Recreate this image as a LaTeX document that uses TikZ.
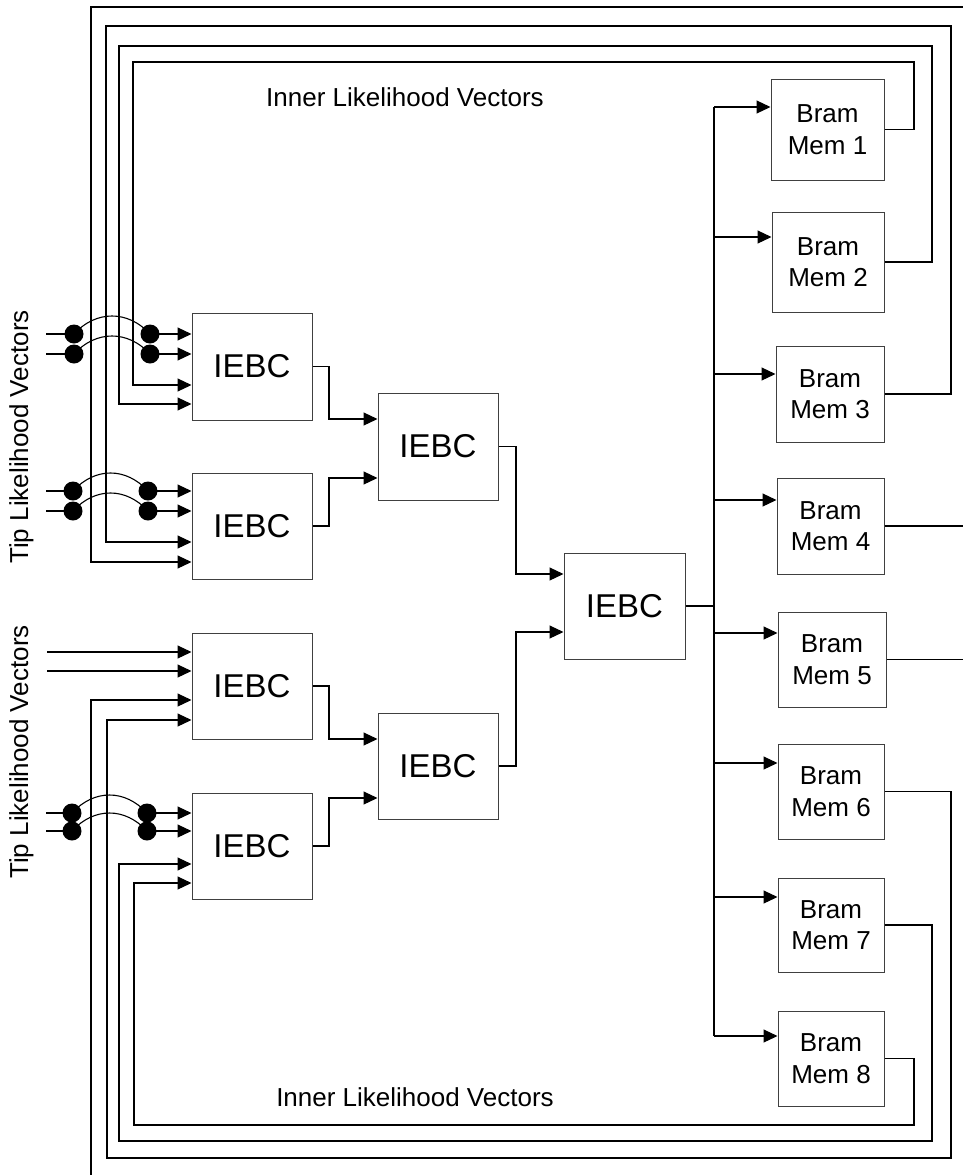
\documentclass[tikz,border=0pt]{standalone}
\usepackage{fontspec}
\setmainfont{Liberation Sans}
\usetikzlibrary{arrows.meta}
\begin{document}
\begin{tikzpicture}[x=1pt,y=-1pt,
  wire/.style={line width=1.1pt, draw=black},
  arr/.style={wire, -{Triangle[length=14pt,width=13pt]}},
  blk/.style={draw=black!75, line width=1pt, inner sep=0pt, minimum width=120pt, minimum height=106pt, font=\fontsize{33}{36}\selectfont},
  mem/.style={draw=black!75, line width=1pt, inner sep=0pt, align=center, font=\fontsize{26}{31.5}\selectfont},
  dotn/.style={circle, fill=black, inner sep=0pt, minimum size=19pt},
  lbl/.style={font=\fontsize{26}{30}\selectfont, inner sep=0pt}]
\fill[white] (0,0) rectangle (963,1175);
\useasboundingbox (0,0) rectangle (963,1175);

% IEBC blocks
\node[blk, minimum height=107pt] (b1) at (252,366.5) {IEBC};
\node[blk] (b2) at (252,526) {IEBC};
\node[blk] (b3) at (252,686) {IEBC};
\node[blk] (b4) at (252,846) {IEBC};
\node[blk, minimum height=107pt] (b5) at (438,446.5) {IEBC};
\node[blk] (b6) at (438,766) {IEBC};
\node[blk, minimum width=121pt] (b7) at (624.5,606) {IEBC};

% Bram memories
\node[mem, minimum width=113pt, minimum height=101pt] (m1) at (827.5,129.5) {Bram\\Mem 1};
\node[mem, minimum width=112pt, minimum height=100pt] (m2) at (828,262) {Bram\\Mem 2};
\node[mem, minimum width=108pt, minimum height=96pt] (m3) at (830,394) {Bram\\Mem 3};
\node[mem, minimum width=107pt, minimum height=96pt] (m4) at (830.5,526) {Bram\\Mem 4};
\node[mem, minimum width=108pt, minimum height=95pt] (m5) at (832,659.5) {Bram\\Mem 5};
\node[mem, minimum width=106pt, minimum height=95pt] (m6) at (831,791.5) {Bram\\Mem 6};
\node[mem, minimum width=106pt, minimum height=94pt] (m7) at (831,925) {Bram\\Mem 7};
\node[mem, minimum width=106pt, minimum height=95pt] (m8) at (831,1058.5) {Bram\\Mem 8};

% labels
\node[lbl] (il1) at (405,97.5) {Inner Likelihood Vectors};
\node[lbl] (il2) at (415,1097) {Inner Likelihood Vectors};
\node[lbl, rotate=90] (tl1) at (21.5,437) {Tip Likelihood Vectors};
\node[lbl, rotate=90] (tl2) at (21.5,752) {Tip Likelihood Vectors};

% tree connections
\draw[arr] (b1.east) -| (329,419) -- (b5.west |- 0,419);
\draw[arr] (b2.east) -| (329,478) -- (b5.west |- 0,478);
\draw[arr] (b3.east) -| (329,739) -- (b6.west |- 0,739);
\draw[arr] (b4.east) -| (329,798) -- (b6.west |- 0,798);
\draw[arr] (b5.east) -| (516,574) -- (b7.west |- 0,574);
\draw[arr] (b6.east) -| (516,632) -- (b7.west |- 0,632);

% bus to memories
\coordinate (bus) at (714,606);
\draw[wire] (b7.east) -- (bus);
\draw[wire] (bus |- 0,107) -- (bus |- 0,1036);
\draw[arr] (bus |- 0,107) -- (m1.west |- 0,107);
\draw[arr] (bus |- 0,237) -- (m2.west |- 0,237);
\draw[arr] (bus |- 0,374) -- (m3.west |- 0,374);
\draw[arr] (bus |- 0,500) -- (m4.west |- 0,500);
\draw[arr] (bus |- 0,633) -- (m5.west |- 0,633);
\draw[arr] (bus |- 0,763) -- (m6.west |- 0,763);
\draw[arr] (bus |- 0,897) -- (m7.west |- 0,897);
\draw[arr] (bus |- 0,1036) -- (m8.west |- 0,1036);

% feedback (inner likelihood vectors)
\coordinate (topin) at (963,7);
\coordinate (botin) at (91,1175);
\coordinate (o4) at (963,526);
\coordinate (o5) at (963,659.5);
\draw[arr] (m1.east) -| (914,62) -| (133,385) -- (b1.west |- 0,385);
\draw[arr] (m2.east) -| (932,46) -| (119,404) -- (b1.west |- 0,404);
\draw[arr] (m3.east) -| (951,26) -| (106,542) -- (b2.west |- 0,542);
\draw[arr] (topin) -| (91,562) -- (b2.west |- 0,562);
\draw[wire] (m4.east) -- (o4);
\draw[wire] (m5.east) -- (o5);
\draw[arr] (botin) -- (91,700) -- (b3.west |- 0,700);
\draw[arr] (m6.east) -| (951,1158) -| (107,720) -- (b3.west |- 0,720);
\draw[arr] (m7.east) -| (932,1141) -| (119,864) -- (b4.west |- 0,864);
\draw[arr] (m8.east) -| (914,1125) -| (134,883) -- (b4.west |- 0,883);

% tip inputs with crossovers
\coordinate (t1a) at (46,334);
\coordinate (t1b) at (46,354);
\coordinate (t2a) at (46,491);
\coordinate (t2b) at (46,511);
\coordinate (t3a) at (47,652);
\coordinate (t3b) at (47,671);
\coordinate (t4a) at (46,813);
\coordinate (t4b) at (46,831);

\node[dotn] (d1al) at (74,334) {};
\node[dotn] (d1ar) at (150,334) {};
\node[dotn] (d1bl) at (74,354) {};
\node[dotn] (d1br) at (150,354) {};
\node[dotn] (d2al) at (73,491) {};
\node[dotn] (d2ar) at (148,491) {};
\node[dotn] (d2bl) at (73,511) {};
\node[dotn] (d2br) at (148,511) {};
\node[dotn] (d4al) at (72,813) {};
\node[dotn] (d4ar) at (147,813) {};
\node[dotn] (d4bl) at (72,831) {};
\node[dotn] (d4br) at (147,831) {};

\foreach \p/\b in {d1a/b1, d1b/b1, d2a/b2, d2b/b2, d4a/b4, d4b/b4}{
  \draw[wire] (\p l.center) .. controls +(22,-24) and +(-22,-24) .. (\p r.center);
  \draw[arr] (\p r.center) -- (\b.west |- \p r);
}
\draw[wire] (t1a) -- (d1al.center);
\draw[wire] (t1b) -- (d1bl.center);
\draw[wire] (t2a) -- (d2al.center);
\draw[wire] (t2b) -- (d2bl.center);
\draw[wire] (t4a) -- (d4al.center);
\draw[wire] (t4b) -- (d4bl.center);
\draw[arr] (t3a) -- (b3.west |- t3a);
\draw[arr] (t3b) -- (b3.west |- t3b);
\end{tikzpicture}
\end{document}
